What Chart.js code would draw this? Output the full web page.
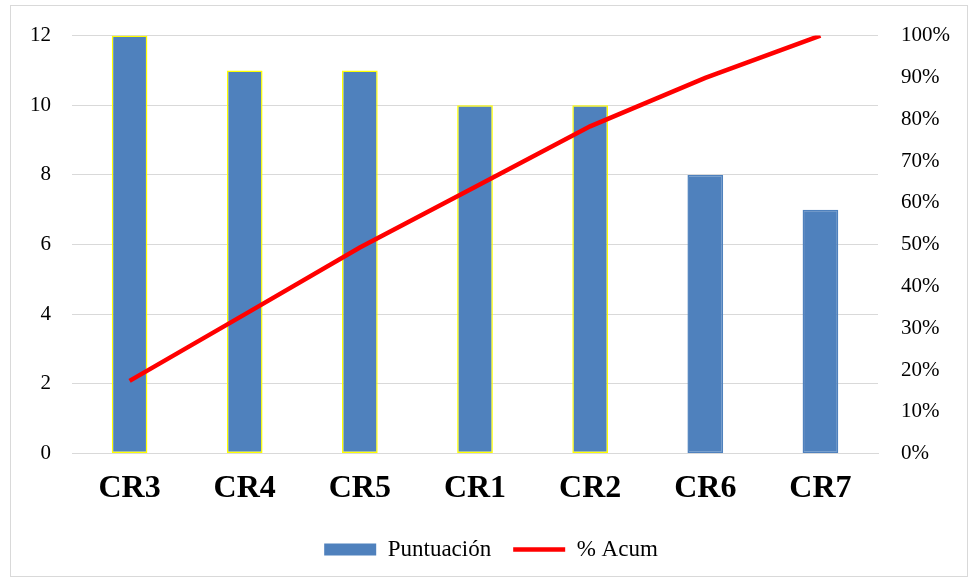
<!DOCTYPE html>
<html>
<head>
<meta charset="utf-8">
<script src="https://cdn.jsdelivr.net/npm/chart.js@4.4.0/dist/chart.umd.min.js"></script>
<style>
    html, body { margin: 0; padding: 0; background: #fff; }
    #wrap { position: relative; width: 976px; height: 578px; }
    #frame { position: absolute; left: 10px; top: 5px; width: 958px; height: 572px; border: 1px solid #d9d9d9; box-sizing: border-box; pointer-events: none; }
</style>
</head>
<body>
<div id="wrap">
    <canvas id="paretoChart" width="976" height="578"></canvas>
    <div id="frame"></div>
</div>
<script>
const categorias = ['CR3', 'CR4', 'CR5', 'CR1', 'CR2', 'CR6', 'CR7'];
const puntuacion = [12, 11, 11, 10, 10, 8, 7];
const acumulado = [17.4, 33.3, 49.3, 63.8, 78.3, 89.9, 100];
const bordeBarras = ['#ffff00', '#ffff00', '#ffff00', '#ffff00', '#ffff00', '#4f81bd', '#4f81bd'];

const serif = "'Liberation Serif', 'Times New Roman', serif";

const ctx = document.getElementById('paretoChart').getContext('2d');
new Chart(ctx, {
    type: 'bar',
    data: {
        labels: categorias,
        datasets: [{
            label: 'Puntuación',
            data: puntuacion,
            backgroundColor: '#4f81bd',
            borderColor: bordeBarras,
            borderWidth: 1.5,
            borderSkipped: false,
            barPercentage: 0.62,
            categoryPercentage: 0.5,
            yAxisID: 'y',
            order: 2,
            pointStyle: 'rect'
        }, {
            type: 'line',
            label: '% Acum',
            data: acumulado,
            borderColor: '#ff0000',
            backgroundColor: '#ff0000',
            borderWidth: 4.5,
            pointRadius: 0,
            tension: 0,
            yAxisID: 'y1',
            order: 1,
            pointStyle: 'line'
        }]
    },
    options: {
        responsive: false,
        animation: false,
        layout: { padding: { left: 9, right: 3, top: 24, bottom: 7 } },
        plugins: {
            tooltip: { enabled: false },
            legend: {
                position: 'bottom',
                labels: {
                    usePointStyle: true,
                    pointStyleWidth: 52,
                    boxHeight: 12,
                    padding: 22,
                    color: '#000',
                    font: { family: serif, size: 23 },
                    sort: (a, b) => a.datasetIndex - b.datasetIndex,
                    generateLabels: function(chart) {
                        const items = Chart.defaults.plugins.legend.labels.generateLabels(chart);
                        items.forEach(item => {
                            if (item.datasetIndex === 0) {
                                item.strokeStyle = '#4f81bd';
                                item.lineWidth = 0;
                            }
                        });
                        return items;
                    }
                }
            }
        },
        scales: {
            x: {
                grid: { display: false },
                border: { display: true, color: '#d9d9d9', width: 1 },
                ticks: {
                    color: '#000',
                    padding: 8,
                    font: { family: serif, size: 32, weight: 'bold' }
                }
            },
            y: {
                position: 'left',
                min: 0,
                max: 12,
                grid: { color: '#d9d9d9', drawTicks: false },
                border: { display: false },
                ticks: {
                    stepSize: 2,
                    color: '#000',
                    padding: 21,
                    font: { family: serif, size: 21 }
                }
            },
            y1: {
                position: 'right',
                min: 0,
                max: 100,
                grid: { display: false, drawTicks: false },
                border: { display: false },
                ticks: {
                    stepSize: 10,
                    color: '#000',
                    padding: 23,
                    font: { family: serif, size: 21 },
                    callback: v => v + '%'
                }
            }
        }
    }
});
</script>
</body>
</html>
